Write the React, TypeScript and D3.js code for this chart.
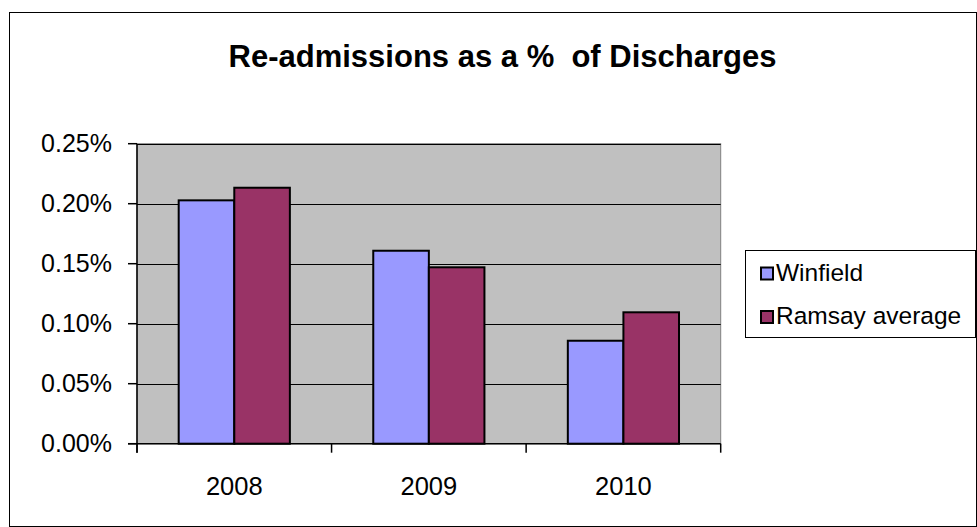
import React from "react";
import * as d3 from "d3";

// Re-admissions as a percentage of discharges, by year
const years = ["2008", "2009", "2010"];
const seriesNames = ["Winfield", "Ramsay average"];
const winfield = [0.2028, 0.1608, 0.0858];
const ramsayAverage = [0.2133, 0.147, 0.1095];
const yTicks = [0, 0.05, 0.1, 0.15, 0.2, 0.25];
const seriesColors = ["#9999FF", "#993366"];

const W = 977;
const H = 527;
const plot = { left: 137, right: 720.7, top: 143.7, bottom: 443.7 };
const FONT = "'Liberation Sans', Arial, sans-serif";

export default function App() {
  const series = [winfield, ramsayAverage];

  const y = d3.scaleLinear().domain([0, 0.25]).range([plot.bottom, plot.top]);
  // Excel-style clustered columns: gap width 150% of a column
  const gap = 1.5 / 3.5;
  const x0 = d3
    .scaleBand<string>()
    .domain(years)
    .range([plot.left, plot.right])
    .paddingInner(gap)
    .paddingOuter(gap / 2);
  const x1 = d3
    .scaleBand<number>()
    .domain(d3.range(series.length))
    .range([0, x0.bandwidth()]);

  const fmt = (v: number) => `${v.toFixed(2)}%`;
  const step = x0.step();
  const catTicks = d3.range(years.length + 1).map((i) => plot.left + i * step);

  return (
    <svg
      width={W}
      height={H}
      style={{ position: "absolute", left: 0, top: 0, background: "#fff" }}
      fontFamily={FONT}
    >
      <rect x={9.5} y={12.5} width={967} height={514} fill="#fff" stroke="#000" strokeWidth={1} />

      <text
        x={(227 + 778) / 2}
        y={66.7}
        textAnchor="middle"
        fontSize={31}
        fontWeight="bold"
        fill="#000"
        style={{ whiteSpace: "pre" }}
        xmlSpace="preserve"
      >
        {"Re-admissions as a %  of Discharges"}
      </text>

      {/* plot area */}
      <rect
        x={plot.left}
        y={plot.top}
        width={plot.right - plot.left}
        height={plot.bottom - plot.top}
        fill="#C0C0C0"
        stroke="#808080"
        strokeWidth={1}
      />

      {/* gridlines */}
      {yTicks.slice(1).map((t) => (
        <line
          key={`g${t}`}
          x1={plot.left}
          x2={plot.right}
          y1={Math.round(y(t)) + 0.5}
          y2={Math.round(y(t)) + 0.5}
          stroke="#000"
          strokeWidth={1}
        />
      ))}

      {/* columns */}
      {years.map((yr, i) => (
        <g key={yr} transform={`translate(${x0(yr)},0)`}>
          {series.map((s, j) => (
            <rect
              key={j}
              x={x1(j)}
              y={y(s[i])}
              width={x1.bandwidth()}
              height={plot.bottom - y(s[i])}
              fill={seriesColors[j]}
              stroke="#000"
              strokeWidth={2}
            />
          ))}
        </g>
      ))}

      {/* y axis */}
      <line x1={plot.left} x2={plot.left} y1={plot.top} y2={plot.bottom + 9} stroke="#000" strokeWidth={1.5} />
      {yTicks.map((t) => (
        <g key={`y${t}`}>
          <line x1={plot.left - 9} x2={plot.left} y1={y(t)} y2={y(t)} stroke="#000" strokeWidth={1.5} />
          <text x={112} y={y(t)} dy="0.35em" textAnchor="end" fontSize={25} fill="#000">
            {fmt(t)}
          </text>
        </g>
      ))}

      {/* x axis */}
      <line x1={plot.left - 9} x2={plot.right} y1={plot.bottom} y2={plot.bottom} stroke="#000" strokeWidth={1.5} />
      {catTicks.map((tx, i) => (
        <line key={`xt${i}`} x1={tx} x2={tx} y1={plot.bottom} y2={plot.bottom + 9} stroke="#000" strokeWidth={1.5} />
      ))}
      {years.map((yr) => (
        <text
          key={`xl${yr}`}
          x={(x0(yr) as number) + x0.bandwidth() / 2}
          y={495}
          textAnchor="middle"
          fontSize={25.5}
          fill="#000"
        >
          {yr}
        </text>
      ))}

      {/* legend */}
      <rect x={745.5} y={250.5} width={230} height={87} fill="#fff" stroke="#000" strokeWidth={1} />
      {seriesNames.map((name, j) => (
        <g key={name} transform={`translate(0,${j * 43.5})`}>
          <rect x={761} y={267.5} width={12} height={12} fill={seriesColors[j]} stroke="#000" strokeWidth={2} />
          <text x={776} y={280.7} fontSize={24.5} fill="#000">
            {name}
          </text>
        </g>
      ))}
    </svg>
  );
}
